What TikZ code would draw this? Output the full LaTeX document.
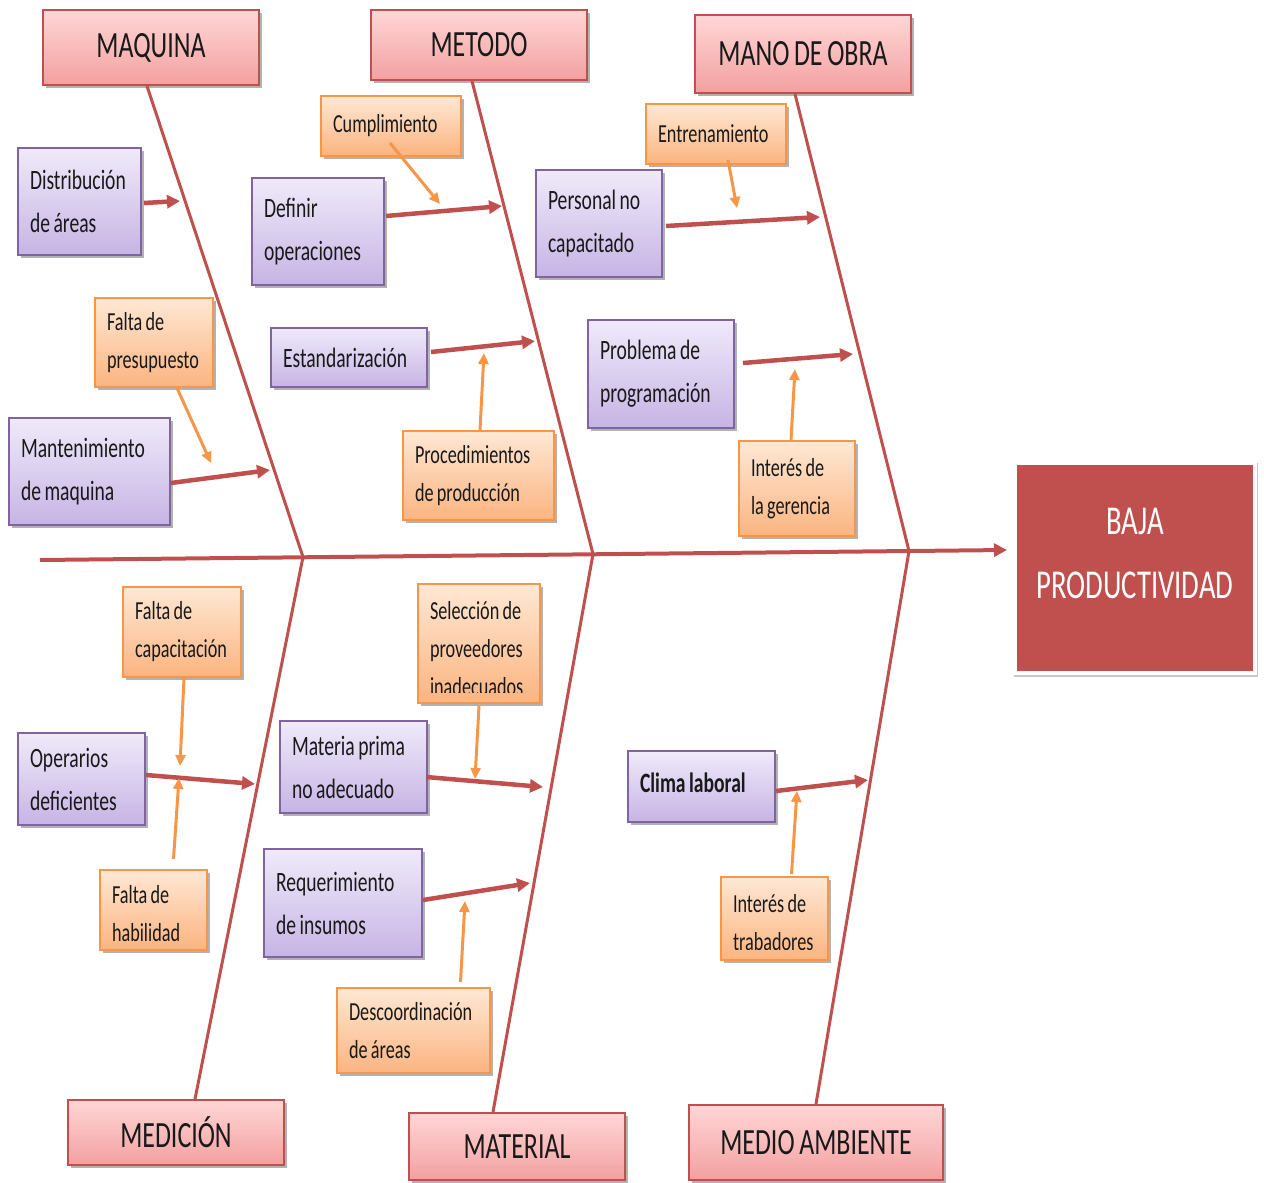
\documentclass[tikz,border=0pt]{standalone}
\usepackage{fontspec}
\setmainfont[FakeStretch=0.7,WordSpace=0.8]{Carlito}
\usetikzlibrary{arrows.meta,calc,shadows}

\definecolor{bone}{RGB}{192,80,77}
\definecolor{pinkT}{RGB}{255,214,214}
\definecolor{pinkB}{RGB}{243,160,160}
\definecolor{purT}{RGB}{240,234,250}
\definecolor{purB}{RGB}{198,180,228}
\definecolor{purD}{RGB}{128,100,162}
\definecolor{orT}{RGB}{255,232,212}
\definecolor{orB}{RGB}{251,180,128}
\definecolor{orD}{RGB}{247,150,70}
\definecolor{ink}{RGB}{25,25,25}

% natural interword spaces inside fixed-width node text
\newcommand\naturalspaces{\spaceskip=0pt\xspaceskip=0pt\relax}

\tikzset{
  shade/.style={drop shadow={shadow xshift=3pt,shadow yshift=-3pt,opacity=.3,fill=black}},
  catbox/.style={draw=bone,line width=2pt,top color=pinkT,bottom color=pinkB,shade,
    text=ink,font=\fontsize{37}{44}\selectfont,inner sep=0pt},
  causebox/.style={draw=purD,line width=2pt,top color=purT,bottom color=purB,shade,
    text=ink,font=\fontsize{28}{43}\selectfont,inner xsep=12pt,inner ysep=0pt,
    execute at begin node=\naturalspaces},
  subbox/.style={draw=orD,line width=2pt,top color=orT,bottom color=orB,shade,
    text=ink,font=\fontsize{26}{38}\selectfont,inner xsep=12pt,inner ysep=0pt,
    execute at begin node=\naturalspaces},
  subtext/.style={text=ink,font=\fontsize{26}{38}\selectfont,inner xsep=12pt,inner ysep=0pt,
    execute at begin node=\naturalspaces},
  bonepath/.style={draw=bone,line width=3pt},
  spinepath/.style={draw=bone,line width=4pt,-{Triangle[length=13pt,width=13pt]}},
  redarrow/.style={draw=bone,line width=4.5pt,-{Triangle[length=13pt,width=13pt]}},
  orarrow/.style={draw=orD,line width=3pt,-{Triangle[length=11pt,width=10pt]}},
}

\begin{document}
\begin{tikzpicture}[x=1pt,y=-1pt]
\useasboundingbox (0,0) rectangle (1264,1183);

% effect
\node[draw=white,line width=4pt,fill=bone,
  drop shadow={shadow xshift=1pt,shadow yshift=-2pt,shadow scale=1.02,opacity=.22,fill=black},
  minimum width=240,minimum height=210] (baja) at (1135,568) {};
\node[text=white,font=\fontsize{41}{64}\selectfont,align=center] (bajat) at (1135,553) {BAJA\\PRODUCTIVIDAD};

% category boxes
\node[catbox,minimum width=216,minimum height=75] (maq) at (151,47.5) {MAQUINA};
\node[catbox,minimum width=216,minimum height=70] (met) at (479,45) {METODO};
\node[catbox,minimum width=216,minimum height=78] (mano) at (803,54) {MANO DE OBRA};
\node[catbox,minimum width=216,minimum height=65] (med) at (176,1132.5) {MEDICIÓN};
\node[catbox,minimum width=216,minimum height=67] (mat) at (517,1146.5) {MATERIAL};
\node[catbox,minimum width=254,minimum height=75] (amb) at (816,1142.5) {MEDIO AMBIENTE};

% spine and bones
\coordinate (tail) at (40,560);
\coordinate (j1) at (303,557);
\coordinate (j2) at (593,554);
\coordinate (j3) at (909,551);
\draw[spinepath] (tail) -- ($(baja.west)+(-6,-18)$);
\draw[bonepath] ([xshift=-4pt]maq.south) -- (j1);
\draw[bonepath] ([xshift=-7pt]met.south) -- (j2);
\draw[bonepath] ([xshift=-8pt]mano.south) -- (j3);
\draw[bonepath] ([xshift=19pt]med.north) -- (j1);
\draw[bonepath] ([xshift=-24pt]mat.north) -- (j2);
\draw[bonepath] (amb.north) -- (j3);

% causes
\node[causebox,minimum width=123,minimum height=107,text width=99pt] (dist) at (79.5,201.5) {Distribución\\de áreas};
\node[causebox,minimum width=161,minimum height=107,text width=137pt] (mant) at (89.5,471.5) {Mantenimiento\\de maquina};
\node[causebox,minimum width=132,minimum height=107,text width=108pt] (def) at (318,231.5) {Definir\\operaciones};
\node[causebox,minimum width=156,minimum height=59,text width=132pt] (est) at (349,357.5) {Estandarización};
\node[causebox,minimum width=126,minimum height=107,text width=102pt] (pers) at (599,223.5) {Personal no\\capacitado};
\node[causebox,minimum width=146,minimum height=108,text width=122pt] (prob) at (661,374) {Problema de\\programación};
\node[causebox,minimum width=127,minimum height=92,text width=103pt] (oper) at (81.5,779) {Operarios\\deficientes};
\node[causebox,minimum width=147,minimum height=92,text width=123pt] (matp) at (353.5,767) {Materia prima\\no adecuado};
\node[causebox,minimum width=158,minimum height=108,text width=134pt] (req) at (343,903) {Requerimiento\\de insumos};
\node[causebox,minimum width=147,minimum height=71,text width=123pt] (clima) at (701.5,786.5) {\raisebox{7pt}{\bfseries Clima laboral}};

% sub-causes
\node[subbox,minimum width=140,minimum height=60,text width=116pt] (cump) at (391,126) {Cumplimiento};
\node[subbox,minimum width=118,minimum height=89,text width=94pt] (fpres) at (154,342.5) {Falta de\\presupuesto};
\node[subbox,minimum width=140,minimum height=60,text width=116pt] (entr) at (716,134) {Entrenamiento};
\node[subbox,minimum width=151,minimum height=89,text width=127pt] (proc) at (478.5,475.5) {Procedimientos\\de producción};
\node[subbox,minimum width=116,minimum height=95,text width=92pt] (intg) at (797,488.5) {Interés de\\la gerencia};
\node[subbox,minimum width=118,minimum height=90,text width=94pt] (fcap) at (182,632) {Falta de\\capacitación};
\node[subbox,minimum width=153,minimum height=85,text width=129pt] (desc) at (413.5,1030.5) {Descoordinación\\de áreas};
\node[subbox,minimum width=122,minimum height=119] (sel) at (479,643.5) {};
\node[subbox,minimum width=107,minimum height=80] (fhab) at (153.5,910) {};
\node[subbox,minimum width=107,minimum height=83] (intt) at (774.5,918.5) {};
\begin{scope}
  \clip ($(sel.south west)+(0,-12)$) rectangle (sel.north east);
  \node[subtext,text width=98pt] (selt) at ($(sel.center)+(0,5)$) {Selección de\\proveedores\\inadecuados};
\end{scope}
\begin{scope}
  \clip ($(fhab.south west)+(0,-10)$) rectangle (fhab.north east);
  \node[subtext,text width=83pt] (fhabt) at ($(fhab.center)+(0,4)$) {Falta de\\habilidad};
\end{scope}
\begin{scope}
  \clip ($(intt.south west)+(0,-12)$) rectangle (intt.north east);
  \node[subtext,text width=83pt] (intts) at ($(intt.center)+(0,4)$) {Interés de\\trabadores};
\end{scope}

% cause arrows onto the bones
\draw[redarrow] ($(dist.east)+(2,1.5)$) -- (180,201) coordinate (tdist);
\draw[redarrow] ($(mant.east)+(0,11.5)$) -- (270,470) coordinate (tmant);
\draw[redarrow] ($(def.east)+(1,-15.5)$) -- (502,206) coordinate (tdef);
\draw[redarrow] ($(est.east)+(3,-5.5)$) -- (535,341) coordinate (test);
\draw[redarrow] ($(pers.east)+(3,2.5)$) -- (820,217) coordinate (tpers);
\draw[redarrow] ($(prob.east)+(8,-11)$) -- (853,354) coordinate (tprob);
\draw[redarrow] ($(oper.east)+(0,-4)$) -- (255,784) coordinate (toper);
\draw[redarrow] ($(matp.east)+(-2,10)$) -- (543,787) coordinate (tmatp);
\draw[redarrow] ($(req.east)+(0,-3)$) -- (530,883) coordinate (treq);
\draw[redarrow] ($(clima.east)+(0,4.5)$) -- (868,780) coordinate (tclima);

% sub-cause arrows onto the cause arrows
\draw[orarrow] ($(cump.center)+(-1,17)$) -- (440,204);
\draw[orarrow] ($(fpres.south)+(23,0)$) -- (211,463);
\draw[orarrow] ($(entr.center)+(12,26)$) -- (737,208);
\draw[orarrow] ($(proc.north)+(1.5,0)$) -- (484,353);
\draw[orarrow] ($(intg.north)+(-6,0)$) -- (795,369);
\draw[orarrow] ($(fcap.south)+(2,0)$) -- (180,766);
\draw[orarrow] ($(fhab.north)+(20,-10)$) -- (179,778);
\draw[orarrow] ($(sel.south)+(0,2)$) -- (475,779);
\draw[orarrow] ($(desc.north)+(47,-5)$) -- (465,901);
\draw[orarrow] ($(intt.north)+(17,-2)$) -- (797,791);
\end{tikzpicture}
\end{document}
